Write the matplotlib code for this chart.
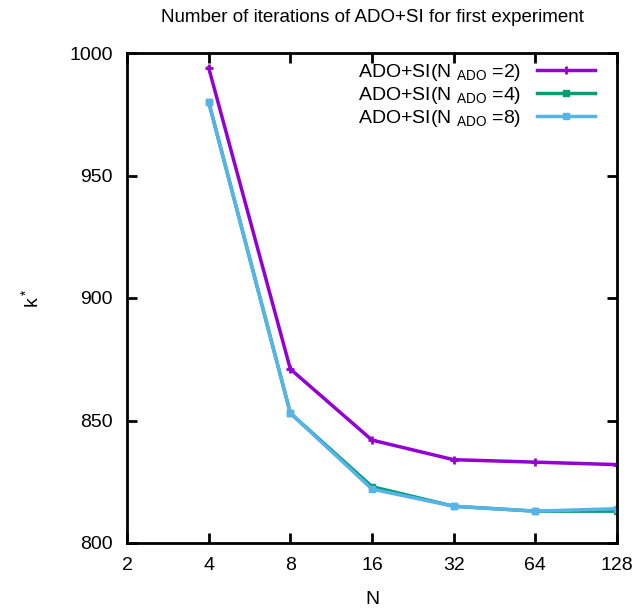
import matplotlib
matplotlib.use("Agg")
import matplotlib.pyplot as plt

plt.rcParams['font.family'] = ['Liberation Sans', 'DejaVu Sans']
plt.rcParams['mathtext.fontset'] = 'custom'
plt.rcParams['mathtext.rm'] = 'Liberation Sans'
plt.rcParams['mathtext.it'] = 'Liberation Sans'

N = [4, 8, 16, 32, 64, 128]
k_ado2 = [994, 871, 842, 834, 833, 832]
k_ado4 = [980, 853, 823, 815, 813, 813]
k_ado8 = [980, 853, 822, 815, 813, 814]

labels = ['ADO+SI(N $_{\\mathrm{ADO}}$ =2)',
          'ADO+SI(N $_{\\mathrm{ADO}}$ =4)',
          'ADO+SI(N $_{\\mathrm{ADO}}$ =8)']
xticks = [2, 4, 8, 16, 32, 64, 128]
yticks = [800, 850, 900, 950, 1000]

fig = plt.figure(figsize=(6.33, 6.09), dpi=100)
ax = fig.add_axes([127 / 633, 1 - 543 / 609, 490 / 633, 490 / 609])

ax.plot(N, k_ado2, color='#9400d3', lw=2.5, marker='+', ms=6, mew=2, label=labels[0])
ax.plot(N, k_ado4, color='#009e73', lw=2.5, marker='s', ms=4, label=labels[1])
ax.plot(N, k_ado8, color='#56b4e9', lw=2.5, marker='s', ms=4.5, label=labels[2])

ax.set_xscale('log', base=2)
ax.set_xlim(2, 128)
ax.set_ylim(800, 1000)
ax.set_xticks(xticks)
ax.set_xticklabels([str(x) for x in xticks])
ax.set_yticks(yticks)
ax.minorticks_off()
ax.tick_params(direction='in', top=True, right=True, length=7, width=2, labelsize=14, pad=10)
for s in ax.spines.values():
    s.set_linewidth(2)

ax.set_xlabel('N', fontsize=14, labelpad=12)
ax.set_ylabel('k$^*$', fontsize=14, labelpad=20)
fig.text(372 / 633, 1 - 18 / 609, 'Number of iterations of ADO+SI for first experiment',
         fontsize=13.5, ha='center', va='center')

ax.legend(loc='upper right', bbox_to_anchor=(595 / 633, 1 - 62 / 609),
          bbox_transform=fig.transFigure, frameon=False, markerfirst=False, fontsize=14,
          handlelength=3, handletextpad=0.8, labelspacing=0.1, borderpad=0, borderaxespad=0)

fig.savefig('out.png', dpi=100)
